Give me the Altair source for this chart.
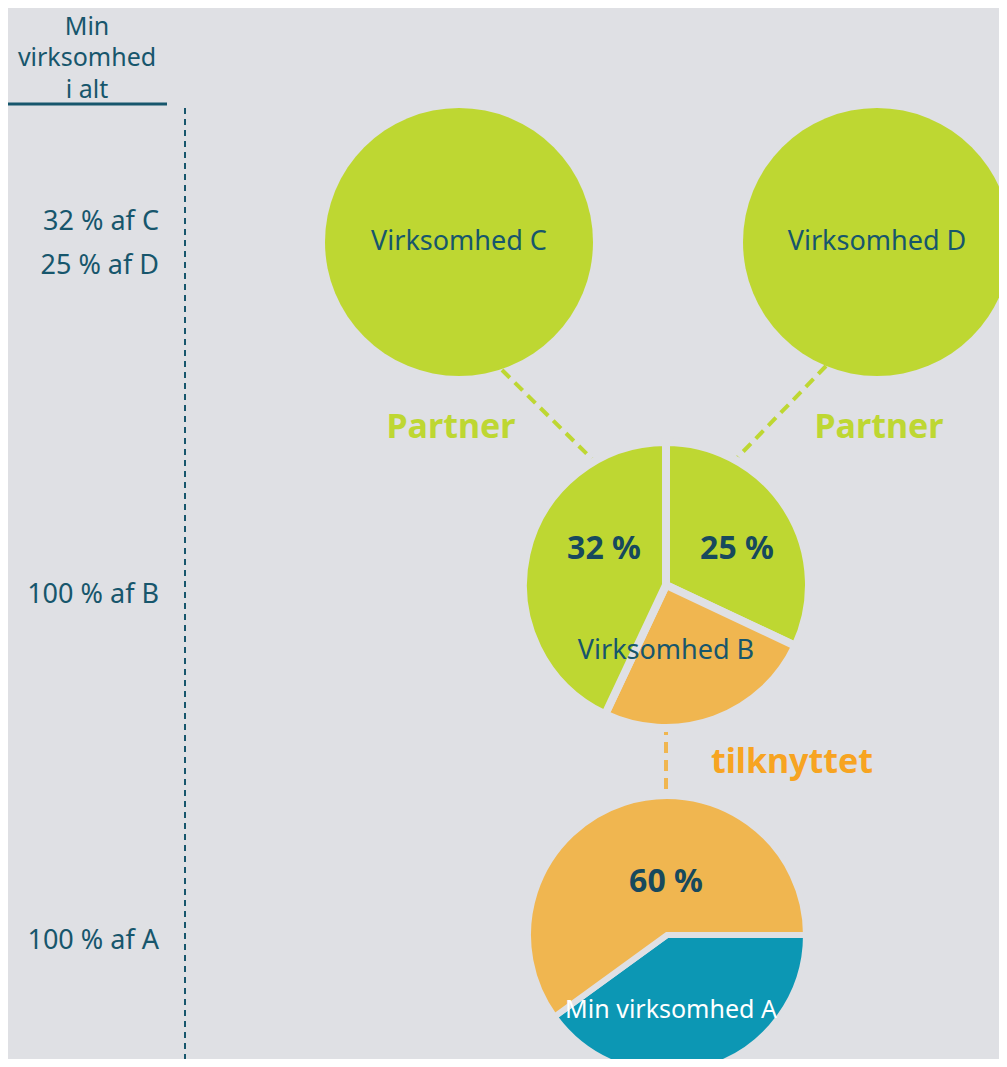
import math
import altair as alt
import pandas as pd

BG = "#dfe0e4"
GREEN = "#bed732"
ORANGE = "#f0b650"
BLUE = "#0c97b4"
DARK = "#17566c"
FONT = "Noto Sans"

# ---- data ----
circle_names = ["Virksomhed C", "Virksomhed D"]
circle_x = [459, 877]
circle_y = [242, 242]
circle_r = [134, 134]

# pie B (clockwise from 12 o'clock): right green, orange, left green
pieB_share = [32, 25, 43]
pieB_color = [GREEN, ORANGE, GREEN]
pieB_center = (666, 585)
pieB_r = 139

# pie A (starting at 3 o'clock): blue, orange
pieA_share = [40, 60]
pieA_color = [BLUE, ORANGE]
pieA_center = (667, 935)
pieA_r = 136
pieA_start = 0.25  # fraction of a turn

# connectors
conn_x = [502, 826, 666]
conn_y = [370, 366, 724]
conn_x2 = [595, 735, 666]
conn_y2 = [462, 460, 798]
conn_color = [GREEN, GREEN, ORANGE]

# labels
lbl_text = ["Virksomhed C", "Virksomhed D", "Virksomhed B", "Min virksomhed A"]
lbl_x = [459, 877, 666, 671]
lbl_y = [242, 242, 651, 1010]
lbl_color = [DARK, DARK, DARK, "#ffffff"]
lbl_size = [27, 27, 27, 25]

pct_text = ["32 %", "25 %", "60 %"]
pct_x = [604, 737, 666]
pct_y = [549, 549, 882]

rel_text = ["Partner", "Partner", "tilknyttet"]
rel_x = [451, 879, 792]
rel_y = [428, 428, 763]
rel_color = [GREEN, GREEN, "#f7a421"]

side_text = ["32 % af C", "25 % af D", "100 % af B", "100 % af A"]
side_y = [222, 266, 595, 941]
head_text = ["Min", "virksomhed", "i alt"]
head_baseline = [35, 66, 98]

# ---- scales ----
W, H = 991, 1051
xs = alt.Scale(domain=[8, 8 + W], nice=False, zero=False)
ys = alt.Scale(domain=[8, 8 + H], nice=False, zero=False, reverse=True)
X = lambda f: alt.X(f, scale=xs, axis=None)
Y = lambda f: alt.Y(f, scale=ys, axis=None)

def pie_rows(shares, colors, center, r, start):
    rows = []
    acc = start
    for s, c in zip(shares, colors):
        t0 = acc * 2 * math.pi
        acc += s / 100
        t1 = acc * 2 * math.pi
        rows.append({"x": center[0], "y": center[1], "t0": t0, "t1": t1, "c": c, "r": r})
    return rows

circles = pd.DataFrame({"x": circle_x, "y": circle_y, "r": circle_r,
                        "t0": [0.0] * 2, "t1": [2 * math.pi] * 2, "c": [GREEN] * 2})
pies = pd.DataFrame(pie_rows(pieB_share, pieB_color, pieB_center, pieB_r, 0.0)
                    + pie_rows(pieA_share, pieA_color, pieA_center, pieA_r, pieA_start))

circle_layer = alt.Chart(circles).mark_arc(outerRadius=134).encode(
    x=X("x:Q"), y=Y("y:Q"),
    theta=alt.Theta("t0:Q", scale=None), theta2="t1:Q",
    color=alt.Color("c:N", scale=None),
)

pieB = alt.Chart(pies.iloc[:3]).mark_arc(outerRadius=pieB_r + 4, stroke=BG, strokeWidth=8,
                                        strokeJoin="miter").encode(
    x=X("x:Q"), y=Y("y:Q"),
    theta=alt.Theta("t0:Q", scale=None), theta2="t1:Q",
    color=alt.Color("c:N", scale=None),
)
pieA = alt.Chart(pies.iloc[3:]).mark_arc(outerRadius=pieA_r + 3, stroke=BG, strokeWidth=6,
                                        strokeJoin="miter").encode(
    x=X("x:Q"), y=Y("y:Q"),
    theta=alt.Theta("t0:Q", scale=None), theta2="t1:Q",
    color=alt.Color("c:N", scale=None),
)

conn = pd.DataFrame({"x": conn_x, "y": conn_y, "x2": conn_x2, "y2": conn_y2, "c": conn_color})
conn_layer = alt.Chart(conn).mark_rule(strokeWidth=4, strokeDash=[11, 7]).encode(
    x=X("x:Q"), y=Y("y:Q"), x2="x2:Q", y2="y2:Q",
    color=alt.Color("c:N", scale=None),
)

# left column
axis_df = pd.DataFrame({"x": [185], "y": [108], "y2": [1067]})
axis_layer = alt.Chart(axis_df).mark_rule(strokeWidth=2, strokeDash=[6, 5], color=DARK).encode(
    x=X("x:Q"), y=Y("y:Q"), y2="y2:Q")
head_rule_df = pd.DataFrame({"x": [7], "x2": [167], "y": [104]})
head_rule = alt.Chart(head_rule_df).mark_rule(strokeWidth=3, color=DARK).encode(
    x=X("x:Q"), x2="x2:Q", y=Y("y:Q"))

head_df = pd.DataFrame({"t": head_text, "x": [87] * 3, "y": head_baseline})
head_layer = alt.Chart(head_df).mark_text(font=FONT, fontSize=25, color=DARK,
                                          baseline="alphabetic", align="center").encode(
    x=X("x:Q"), y=Y("y:Q"), text="t:N")

side_df = pd.DataFrame({"t": side_text, "x": [159] * 4, "y": side_y})
side_layer = alt.Chart(side_df).mark_text(font=FONT, fontSize=27, color=DARK,
                                          baseline="middle", align="right").encode(
    x=X("x:Q"), y=Y("y:Q"), text="t:N")

lbl_df = pd.DataFrame({"t": lbl_text, "x": lbl_x, "y": lbl_y, "c": lbl_color, "s": lbl_size})
lbl_layer = alt.Chart(lbl_df).mark_text(font=FONT, baseline="middle",
                                        align="center").encode(
    x=X("x:Q"), y=Y("y:Q"), text="t:N", color=alt.Color("c:N", scale=None),
    size=alt.Size("s:Q", scale=None))

pct_df = pd.DataFrame({"t": pct_text, "x": pct_x, "y": pct_y})
pct_layer = alt.Chart(pct_df).mark_text(font=FONT, fontSize=32, fontWeight="bold",
                                        color="#17495d", baseline="middle", align="center").encode(
    x=X("x:Q"), y=Y("y:Q"), text="t:N")

rel_df = pd.DataFrame({"t": rel_text, "x": rel_x, "y": rel_y, "c": rel_color})
rel_layer = alt.Chart(rel_df).mark_text(font=FONT, fontSize=34, fontWeight="bold",
                                        baseline="middle", align="center").encode(
    x=X("x:Q"), y=Y("y:Q"), text="t:N", color=alt.Color("c:N", scale=None))

chart = alt.layer(
    axis_layer, head_rule, conn_layer, circle_layer, pieB, pieA,
    head_layer, side_layer, lbl_layer, pct_layer, rel_layer,
).properties(
    width=W, height=H, background=BG, padding=0,
    autosize=alt.AutoSizeParams(type="none"),
).configure_view(stroke=None)

chart.save("out.html", embed_options={"renderer": "svg", "actions": False})
